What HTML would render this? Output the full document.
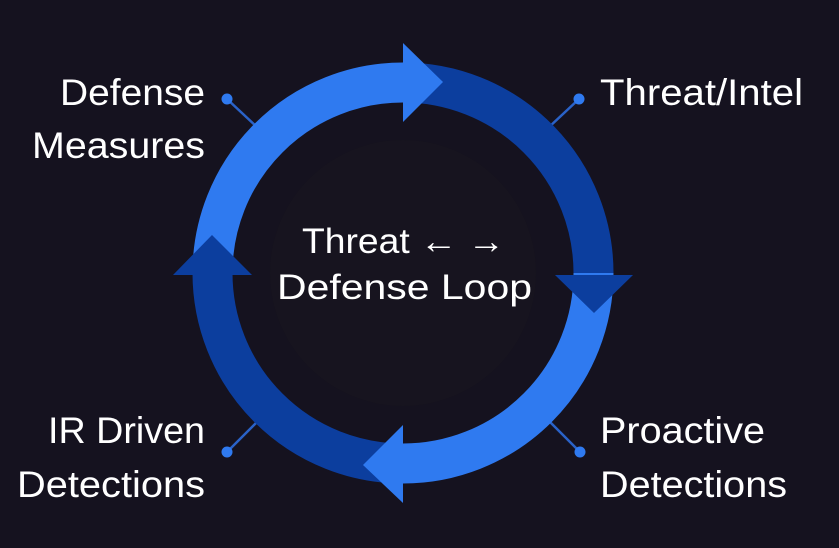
<!DOCTYPE html>
<html><head><meta charset="utf-8"><style>
html,body{margin:0;padding:0;background:#15121f;}
svg{display:block}
text{font-family:"Liberation Sans",sans-serif;fill:#fff;}
</style></head><body>
<svg width="839" height="548" viewBox="0 0 839 548" xmlns="http://www.w3.org/2000/svg">
<rect width="839" height="548" fill="#15121f"/>
<circle cx="403" cy="273" r="133" fill="#17141f"/>
<g stroke="#2a62c8" stroke-width="2.5">
<line x1="227" y1="99" x2="258" y2="128"/>
<line x1="579" y1="99" x2="548" y2="128"/>
<line x1="580" y1="452" x2="549" y2="421"/>
<line x1="227" y1="452" x2="258" y2="421"/>
</g>
<g fill="#2f7af0">
<circle cx="227" cy="99" r="5.5"/><circle cx="579" cy="99" r="5.5"/>
<circle cx="580" cy="452" r="5.5"/><circle cx="227" cy="452" r="5.5"/>
</g>
<g fill="none" stroke-width="40">
<path d="M212.5 273 A190.5 190.5 0 0 1 403 82.5" stroke="#2f7af0"/>
<path d="M403 82.5 A190.5 190.5 0 0 1 593.5 273" stroke="#0c3e9e"/>
<path d="M593.5 273 A190.5 190.5 0 0 1 403 463.5" stroke="#2f7af0"/>
<path d="M403 463.5 A190.5 190.5 0 0 1 212.5 273" stroke="#0c3e9e"/>
</g>
<polygon points="403,43 403,122 443,82" fill="#2f7af0"/>
<polygon points="555,275 633,275 594,313" fill="#0c3e9e"/>
<polygon points="403,425 403,503 363,465" fill="#2f7af0"/>
<polygon points="173,275 252,275 212,235" fill="#0c3e9e"/>
<g font-size="37">
<text x="205" y="105" text-anchor="end" textLength="145" lengthAdjust="spacingAndGlyphs">Defense</text>
<text x="205" y="158" text-anchor="end" textLength="173" lengthAdjust="spacingAndGlyphs">Measures</text>
<text x="600" y="105" textLength="203" lengthAdjust="spacingAndGlyphs">Threat/Intel</text>
<text x="600" y="443" textLength="165" lengthAdjust="spacingAndGlyphs">Proactive</text>
<text x="600" y="497" textLength="187" lengthAdjust="spacingAndGlyphs">Detections</text>
<text x="205" y="443" text-anchor="end" textLength="157" lengthAdjust="spacingAndGlyphs">IR Driven</text>
<text x="205" y="497" text-anchor="end" textLength="188" lengthAdjust="spacingAndGlyphs">Detections</text>
</g>
<g font-size="35">
<text x="302" y="253" textLength="203" lengthAdjust="spacingAndGlyphs">Threat ← →</text>
<text x="277" y="299" textLength="255" lengthAdjust="spacingAndGlyphs">Defense Loop</text>
</g>
</svg>
</body></html>
